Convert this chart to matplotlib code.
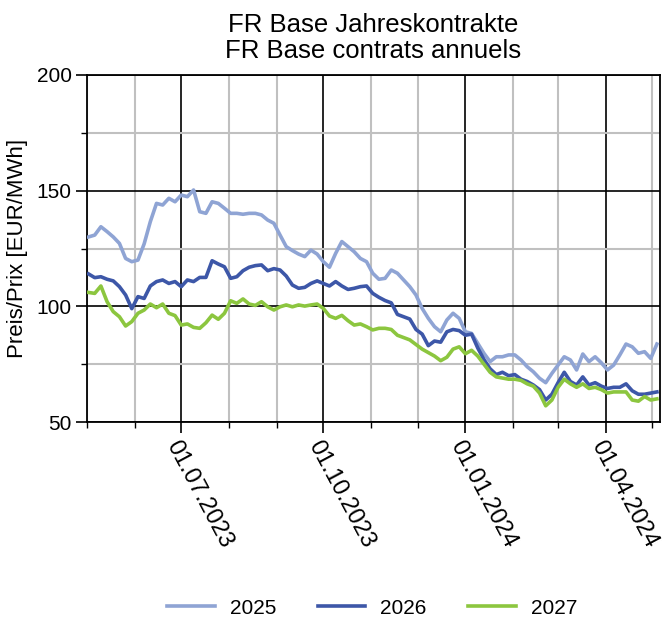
import pandas as pd
import matplotlib
matplotlib.use("Agg")
import matplotlib.pyplot as plt
import matplotlib.dates as mdates
from matplotlib.ticker import MultipleLocator

plt.rcParams['font.family'] = ['Liberation Sans', 'DejaVu Sans']

# Dates (every 4 days)
dates = pd.date_range('2023-05-02', periods=93, freq='4D')

# FR Base year contracts, EUR/MWh
cal_2025 = [130, 130.8, 134.4, 132.3, 130, 127.2, 120.7, 119.3, 120, 127,
            136.6, 144.5, 143.8, 146.7, 145.2, 148.1, 147.4, 150.3, 140.9, 140.2,
            145.2, 144.5, 142.4, 140.2, 140.2, 139.8, 140.2, 140.2, 139.5, 137.3,
            135.9, 130.8, 125.8, 124.1, 122.6, 121.5, 124.3, 122.6, 119.3, 116.9,
            122.9, 128, 125.8, 123.6, 120.7, 119.3, 114.3, 111.7, 112.1, 115.7,
            114.3, 111.4, 108.5, 104.9, 99.1, 94.8, 91.2, 89, 94.1, 97,
            94.8, 89, 88.3, 84, 79.7, 76.1, 78.2, 78.2, 79, 79,
            76.8, 73.9, 71.7, 68.9, 67, 71, 74.6, 78.2, 76.8, 72.5,
            79.4, 76.1, 78.2, 75.6, 72.5, 74.6, 79, 83.7, 82.5, 79.7,
            80.4, 77.5, 83.7]
cal_2026 = [114, 112.4, 112.8, 111.7, 111, 108.5, 104.9, 99, 104.2, 103.4,
            108.8, 110.7, 111.4, 109.9, 110.7, 108.5, 111.4, 110.7, 112.5, 112.5,
            119.7, 118.3, 117.1, 112.1, 112.8, 115.4, 116.9, 117.6, 117.9, 115.4,
            116.3, 115.7, 113.1, 109.2, 107.8, 108.2, 109.9, 111, 109.9, 108.8,
            110.7, 108.8, 107.3, 107.8, 108.5, 108.8, 105.6, 103.9, 102.5, 101.5,
            96.5, 95.5, 94.5, 90, 88, 83, 85, 84.5, 89, 90,
            89.5, 87.5, 88, 82, 77, 73, 70.5, 71.5, 70, 70.5,
            68.5, 67.5, 66, 64, 59.5, 62, 67, 71.5, 67.5, 66,
            69.5, 66, 67, 65.5, 64.5, 65, 65, 66.5, 63.5, 62,
            62, 62.5, 63]
cal_2027 = [106, 105.6, 108.8, 102, 97.7, 95.5, 91.5, 93.4, 97, 98.4,
            101, 99.4, 101, 97, 96, 91.9, 92.4, 90.9, 90.5, 92.9,
            96.2, 94.4, 97, 102.4, 101.3, 103.2, 101, 100.4, 102, 99.8,
            98.4, 99.8, 100.6, 99.8, 100.6, 100.1, 100.6, 101, 99.1, 95.8,
            94.8, 96.1, 93.8, 91.9, 92.4, 91.2, 89.8, 90.5, 90.5, 90,
            87.5, 86.5, 85.5, 83.5, 81.5, 80, 78.5, 76.5, 78, 81.5,
            82.5, 79.5, 81, 78.5, 75, 71.5, 69.5, 69, 68.5, 68.5,
            68, 66.5, 65.5, 62.5, 57, 59.5, 65, 68.5, 66.5, 65,
            66.5, 64.5, 65, 64, 62.5, 63, 63, 63, 59.5, 59,
            61, 59.5, 60]

fig = plt.figure(figsize=(6.62, 6.22), dpi=100)
ax = fig.add_axes([87/662, 1 - 422/622, (660 - 87)/662, (422 - 75)/622])

ax.plot(dates, cal_2025, color='#8FA4D4', lw=2.6, label='2025', zorder=3)
ax.plot(dates, cal_2026, color='#3D57A8', lw=2.6, label='2026', zorder=4)
ax.plot(dates, cal_2027, color='#8CC63F', lw=2.6, label='2027', zorder=5)

ax.set_xlim(pd.Timestamp('2023-05-01'), pd.Timestamp('2024-05-06'))
ax.set_ylim(50, 200)

ax.xaxis.set_major_locator(mdates.MonthLocator(bymonth=[1, 4, 7, 10]))
ax.xaxis.set_minor_locator(mdates.MonthLocator())
ax.xaxis.set_major_formatter(mdates.DateFormatter('%d.%m.%Y'))
ax.yaxis.set_major_locator(MultipleLocator(50))
ax.yaxis.set_minor_locator(MultipleLocator(25))

ax.grid(which='minor', color='#c0c0c0', lw=1.5, zorder=1)
ax.grid(which='major', color='black', lw=1.2, zorder=2)
ax.set_axisbelow(True)

for s in ax.spines.values():
    s.set_linewidth(1.3)

ax.tick_params(axis='both', which='major', length=8, width=1.2, labelsize=15, pad=3)
ax.tick_params(axis='both', which='minor', length=4, width=1.0)
ax.tick_params(axis='x', which='major', pad=3, labelsize=17)
for lbl in ax.get_xticklabels():
    lbl.set_rotation(-62)
    lbl.set_rotation_mode('anchor')
    lbl.set_ha('left')
    lbl.set_va('top')

ax.set_ylabel('Preis/Prix [EUR/MWh]', fontsize=16, labelpad=6)
ax.set_title('FR Base Jahreskontrakte\nFR Base contrats annuels', fontsize=18.5,
             linespacing=1.1, pad=12)

fig.legend(loc='center', bbox_to_anchor=(372/662, 0.0225), ncol=3, frameon=False,
           fontsize=15, handlelength=2.3, handletextpad=0.7, columnspacing=2.0)

fig.savefig('out.png', dpi=100)
